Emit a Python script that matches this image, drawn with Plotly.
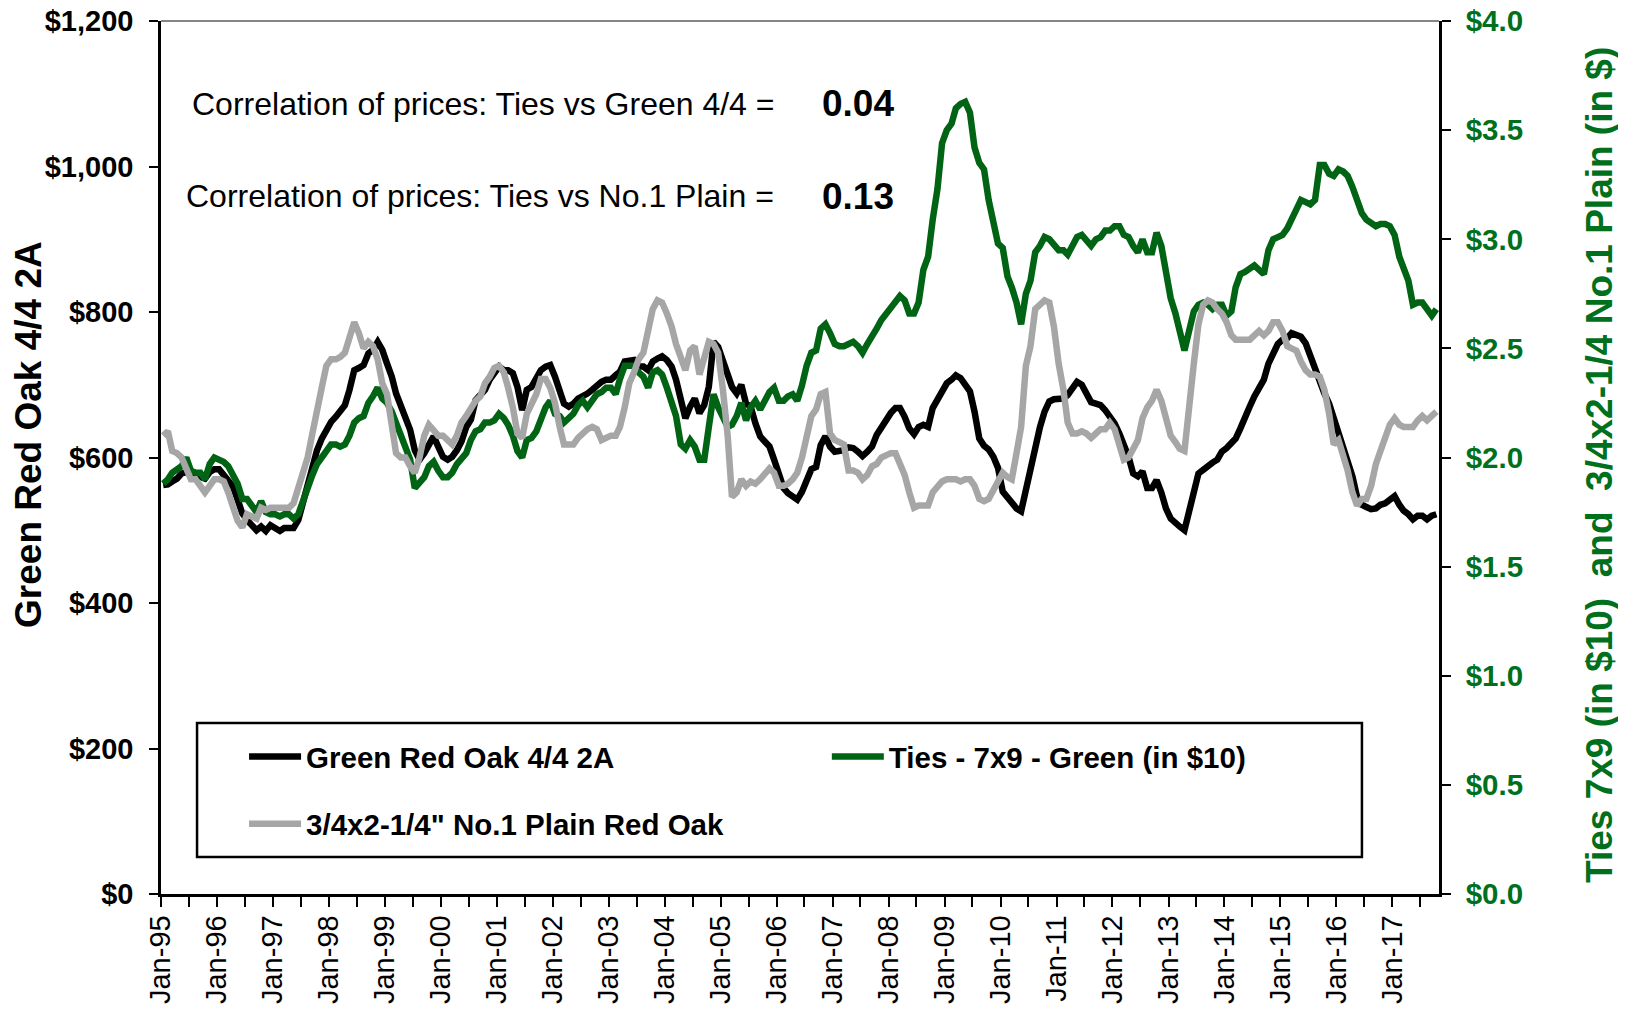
import pandas as pd
import plotly.graph_objects as go

# Green Red Oak 4/4 2A, $/MBF, monthly Jan-95 .. Oct-17
red_oak_2a = [
    562, 563, 567, 571, 578, 580, 578, 576, 574, 571,
    580, 584, 584, 576, 569, 560, 542, 523, 514, 507,
    500, 505, 499, 507, 503, 499, 503, 503, 503, 514,
    537, 564, 587, 610, 626, 638, 649, 656, 665, 672,
    693, 720, 723, 727, 743, 748, 759, 748, 729, 711,
    688, 670, 656, 638, 610, 597, 606, 619, 629, 615,
    601, 597, 601, 610, 622, 642, 652, 679, 686, 693,
    707, 716, 725, 720, 720, 716, 697, 665, 693, 697,
    707, 720, 725, 727, 711, 688, 674, 670, 674, 681,
    684, 688, 693, 700, 704, 707, 707, 713, 718, 732,
    734, 734, 725, 725, 720, 732, 736, 739, 734, 725,
    707, 679, 654, 670, 681, 661, 672, 697, 759, 752,
    734, 711, 697, 688, 700, 674, 670, 647, 629, 622,
    615, 597, 574, 558, 551, 546, 542, 553, 568,
    584, 587, 617, 629, 615, 608, 608, 610, 614, 613, 608,
    602, 608, 615, 631, 642, 651, 661, 668, 668, 656,
    640, 632, 642, 645, 642, 668, 679, 691, 702, 707,
    713, 709, 701, 691, 663, 626, 616, 611, 601, 586,
    553, 545, 541, 530, 526, 555, 587, 622, 642, 663,
    677, 680, 681, 681, 686, 695, 704, 700, 686, 676,
    674, 672, 665, 656, 647, 633, 620,
    601, 578, 574, 581, 558, 558, 569, 552, 530, 516, 509, 505, 500,
    526, 560, 578, 583, 589, 593, 597, 608, 613, 619,
    626, 640, 658, 670, 684, 698, 707, 729, 743, 756,
    762, 764, 771, 768, 766, 757, 739, 718, 704, 688,
    674, 654, 638, 610, 594, 574, 546, 535, 532, 529,
    530, 535, 537, 542, 547, 535, 527, 522, 515, 520,
    520, 515, 520, 522,
]

# Ties 7x9 green, $ per tie
ties_7x9 = [
    18.8, 19.0, 19.3, 19.5, 19.6, 20.0, 19.4, 19.3, 19.3, 19.0,
    19.7, 20.0, 19.9, 19.8, 19.6, 19.1, 18.8, 18.1, 18.1, 17.8,
    17.5, 18.0, 17.5, 17.4, 17.4, 17.3, 17.4, 17.4, 17.2, 17.4,
    17.9, 18.6, 19.2, 19.7, 20.0, 20.3, 20.6, 20.6, 20.5, 20.6,
    21.0, 21.6, 21.8, 21.9, 22.5, 22.8, 23.2, 22.7, 22.5, 22.1,
    21.6, 21.0, 20.4, 19.9, 18.6, 18.8, 19.1, 19.6, 19.8, 19.4,
    19.1, 19.1, 19.3, 19.7, 20.0, 20.2, 20.8, 21.2, 21.3, 21.6,
    21.6, 21.7, 22.0, 21.8, 21.5, 21.0, 20.3, 20.0, 20.8, 20.9,
    21.2, 21.7, 22.3, 22.6, 22.0, 21.9, 21.6, 21.8, 22.0, 22.4,
    22.6, 22.3, 22.6, 22.9, 23.0, 23.2, 23.2, 22.9, 23.6, 24.2,
    24.2, 24.2, 23.9, 23.7, 23.2, 23.9, 24.0, 23.8, 23.2, 22.6,
    21.9, 20.6, 20.4, 20.8, 20.5, 19.9, 19.9, 21.4, 22.9, 22.3,
    21.9, 21.4, 21.5, 21.9, 22.5, 21.7, 22.3, 22.6, 22.2, 22.6,
    23.0, 23.2, 22.6, 22.6, 22.8, 22.9, 22.6, 23.3, 24.2,
    24.8, 24.9, 25.9, 26.1, 25.7, 25.2, 25.1, 25.1, 25.2, 25.3, 25.1,
    24.8, 25.2, 25.5, 25.9, 26.3, 26.6, 26.8, 27.1, 27.4, 27.2,
    26.6, 26.6, 27.1, 28.6, 29.2, 30.9, 32.3, 34.4, 35.0, 35.3,
    36.0, 36.2, 36.3, 35.8, 34.2, 33.5, 33.2, 31.8, 30.9, 29.8,
    29.6, 28.3, 27.8, 27.1, 26.1, 27.5, 28.1, 29.4, 29.7, 30.1,
    30.0, 29.8, 29.5, 29.5, 29.3, 29.7, 30.1, 30.2, 30.0, 29.7,
    30.0, 30.1, 30.4, 30.4, 30.6, 30.6, 30.2,
    30.1, 29.7, 29.4, 30.0, 29.4, 29.4, 30.3, 29.7, 28.3, 27.3, 26.6, 25.7, 24.9,
    25.8, 26.7, 27.0, 27.1, 27.0, 26.8, 27.0, 27.0, 26.5, 26.7,
    27.8, 28.4, 28.5, 28.7, 28.8, 28.6, 28.4, 29.5, 30.0, 30.1,
    30.2, 30.5, 30.9, 31.3, 31.8, 31.7, 31.6, 31.8, 33.4, 33.4,
    33.0, 32.9, 33.2, 33.1, 32.9, 32.4, 31.8, 31.2, 30.9, 30.7,
    30.6, 30.7, 30.7, 30.6, 30.2, 29.2, 28.6, 28.1, 27.0, 27.1,
    27.1, 26.8, 26.5, 26.8,
]

# 3/4x2-1/4" No.1 Plain Red Oak, $
plain_no1 = [
    2.10, 2.12, 2.03, 2.02, 2.00, 1.94, 1.90, 1.90, 1.87, 1.84,
    1.87, 1.90, 1.90, 1.89, 1.84, 1.76, 1.71, 1.68, 1.74, 1.73,
    1.72, 1.77, 1.76, 1.77, 1.77, 1.77, 1.77, 1.77, 1.79, 1.87,
    1.93, 2.00, 2.11, 2.20, 2.32, 2.42, 2.45, 2.45, 2.46, 2.48,
    2.54, 2.62, 2.57, 2.50, 2.53, 2.51, 2.45, 2.34, 2.29, 2.13,
    2.02, 2.00, 2.00, 1.96, 1.93, 2.00, 2.10, 2.15, 2.12, 2.10,
    2.10, 2.08, 2.06, 2.10, 2.16, 2.19, 2.23, 2.26, 2.28, 2.34,
    2.37, 2.41, 2.42, 2.39, 2.32, 2.23, 2.11, 2.09, 2.20, 2.25,
    2.29, 2.36, 2.36, 2.32, 2.25, 2.14, 2.06, 2.06, 2.06, 2.09,
    2.11, 2.13, 2.14, 2.13, 2.08, 2.09, 2.10, 2.10, 2.14, 2.23,
    2.34, 2.39, 2.45, 2.48, 2.57, 2.68, 2.72, 2.71, 2.66, 2.60,
    2.52, 2.45, 2.40, 2.49, 2.51, 2.38, 2.45, 2.53, 2.52, 2.48,
    2.31, 2.10, 1.82, 1.84, 1.90, 1.87, 1.89, 1.88, 1.90, 1.93,
    1.95, 1.93, 1.87, 1.87, 1.88, 1.90, 1.93, 2.00, 2.08,
    2.19, 2.22, 2.29, 2.30, 2.11, 2.08, 2.07, 2.06, 1.94, 1.94, 1.93,
    1.90, 1.92, 1.96, 1.97, 2.00, 2.01, 2.02, 2.02, 1.97, 1.92,
    1.84, 1.77, 1.78, 1.78, 1.78, 1.84, 1.87, 1.89, 1.90, 1.90,
    1.90, 1.89, 1.90, 1.90, 1.87, 1.81, 1.80, 1.81, 1.85, 1.90,
    1.93, 1.91, 1.90, 2.02, 2.14, 2.42, 2.51, 2.68, 2.70, 2.72,
    2.71, 2.60, 2.43, 2.31, 2.16, 2.11, 2.11, 2.12, 2.11, 2.09,
    2.11, 2.13, 2.13, 2.16, 2.13, 2.05, 1.99,
    2.00, 2.04, 2.08, 2.18, 2.23, 2.26, 2.31, 2.26, 2.17, 2.10, 2.07, 2.04, 2.03,
    2.20, 2.43, 2.61, 2.70, 2.72, 2.71, 2.68, 2.66, 2.62, 2.56,
    2.54, 2.54, 2.54, 2.54, 2.56, 2.58, 2.56, 2.58, 2.62, 2.62,
    2.58, 2.51, 2.50, 2.49, 2.44, 2.40, 2.38, 2.38, 2.37, 2.31,
    2.20, 2.06, 2.08, 2.01, 1.94, 1.84, 1.78, 1.81, 1.81, 1.87,
    1.97, 2.03, 2.10, 2.15, 2.18, 2.15, 2.14, 2.14, 2.14, 2.17,
    2.19, 2.17, 2.19, 2.21,
]

corr_labels = ['Correlation of prices: Ties vs Green 4/4 =', 'Correlation of prices: Ties vs No.1 Plain =']
corr_values = [0.04, 0.13]

months = pd.date_range('1995-01-01', periods=len(red_oak_2a), freq='MS') + pd.Timedelta(days=14)

FONT = 'Liberation Sans, Arial, sans-serif'
GREEN = '#006414'
GREEN_TXT = '#00701c'
GRAY = '#a6a6a6'
LW = 6.5

fig = go.Figure()
fig.add_trace(go.Scatter(x=months, y=red_oak_2a, name='Green Red Oak 4/4 2A', mode='lines',
                         line=dict(color='black', width=LW), legend='legend', showlegend=True))
fig.add_trace(go.Scatter(x=months, y=[v / 10 for v in ties_7x9], name='Ties - 7x9 - Green (in $10)', mode='lines',
                         yaxis='y2', line=dict(color=GREEN, width=LW), legend='legend2', showlegend=True))
fig.add_trace(go.Scatter(x=months, y=plain_no1, name='3/4x2-1/4" No.1 Plain Red Oak', mode='lines',
                         yaxis='y2', line=dict(color=GRAY, width=LW), legend='legend3', showlegend=True))

leg = dict(orientation='h', xanchor='left', yanchor='middle', bgcolor='rgba(0,0,0,0)', itemwidth=52,
           font=dict(family=FONT, size=29.5, color='black', weight='bold'))
tick_common = dict(tickwidth=2, tickcolor='black', showgrid=False, zeroline=False, automargin=False)

# the page body adds an 8px margin, so the figure is 16px smaller than the window
fig.update_layout(
    width=1610, height=997,
    margin=dict(l=153, r=179, t=13, b=111, autoexpand=False),
    showlegend=True,
    plot_bgcolor='white', paper_bgcolor='white',
    legend=dict(leg, x=0.065, y=0.157),
    legend2=dict(leg, x=0.521, y=0.157),
    legend3=dict(leg, x=0.065, y=0.080),
    xaxis=dict(type='date', range=['1995-01-01', '2017-11-01'], tick0='1995-01-01', dtick='M12',
               tickformat='%b-%y', tickangle=-90, ticks='outside', ticklen=10,
               minor=dict(tick0='1995-01-01', dtick='M6', ticks='outside', ticklen=10, tickwidth=2, tickcolor='black'),
               showline=True, linecolor='black', linewidth=2.5, ticklabelstandoff=-3, ticklabeloverflow='allow',
               tickfont=dict(family=FONT, size=29, color='black'), **tick_common),
    xaxis2=dict(type='date', overlaying='x', matches='x', anchor='y', side='bottom', tick0='1995-01-01', dtick='M6',
                ticks='inside', ticklen=10, showticklabels=False, showline=False, **tick_common),
    yaxis=dict(range=[0, 1200], tick0=0, dtick=200, tickprefix='$', tickformat=',.0f', ticks='outside', ticklen=9,
               showline=True, linecolor='black', linewidth=2.5, ticklabelstandoff=10, ticklabeloverflow='allow',
               tickfont=dict(family=FONT, size=29, color='black', weight='bold'), **tick_common),
    yaxis3=dict(overlaying='y', matches='y', anchor='x', side='left', tick0=0, dtick=200, ticks='inside', ticklen=9,
                showticklabels=False, showline=False, **tick_common),
    yaxis2=dict(overlaying='y', anchor='x', side='right', range=[0, 4], tick0=0, dtick=0.5, tickprefix='$',
                tickformat='.1f', ticks='outside', ticklen=9, showline=True, linecolor='black', linewidth=2.5,
                ticklabelstandoff=9, ticklabeloverflow='allow',
                tickfont=dict(family=FONT, size=29.5, color=GREEN_TXT, weight='bold'), **tick_common),
    yaxis4=dict(overlaying='y', matches='y2', anchor='x', side='right', tick0=0, dtick=0.5, ticks='inside',
                ticklen=9, showticklabels=False, showline=False, **tick_common),
    shapes=[
        dict(type='line', xref='paper', yref='paper', x0=0, x1=1, y0=1, y1=1, line=dict(color='#868686', width=2)),
        dict(type='rect', xref='paper', yref='paper', x0=0.0282, x1=0.9397, y0=0.0424, y1=0.1959,
             line=dict(color='black', width=2.5), fillcolor='rgba(0,0,0,0)'),
    ],
)

for label, val, yy in zip(corr_labels, corr_values, [0.905, 0.7995]):
    fig.add_annotation(text=label, x=0.4812, y=yy, xref='paper', yref='paper', xanchor='right', yanchor='middle',
                       showarrow=False, font=dict(family=FONT, size=32, color='black'))
    fig.add_annotation(text=f'{val:.2f}', x=0.5156, y=yy, xref='paper', yref='paper', xanchor='left',
                       yanchor='middle', showarrow=False,
                       font=dict(family=FONT, size=37, color='black', weight='bold'))

fig.add_annotation(text='Green Red Oak 4/4 2A', textangle=-90, x=-0.1033, y=0.527, xref='paper', yref='paper',
                   xanchor='center', yanchor='middle', showarrow=False,
                   font=dict(family=FONT, size=37, color='black', weight='bold'))
fig.add_annotation(text='Ties 7x9 (in $10)\u00a0 and\u00a0 3/4x2-1/4 No.1 Plain (in $)', textangle=-90,
                   x=1.1252, y=0.4914, xref='paper', yref='paper', xanchor='center', yanchor='middle',
                   showarrow=False, font=dict(family=FONT, size=37, color=GREEN_TXT, weight='bold'))

fig.write_html('out.html')
